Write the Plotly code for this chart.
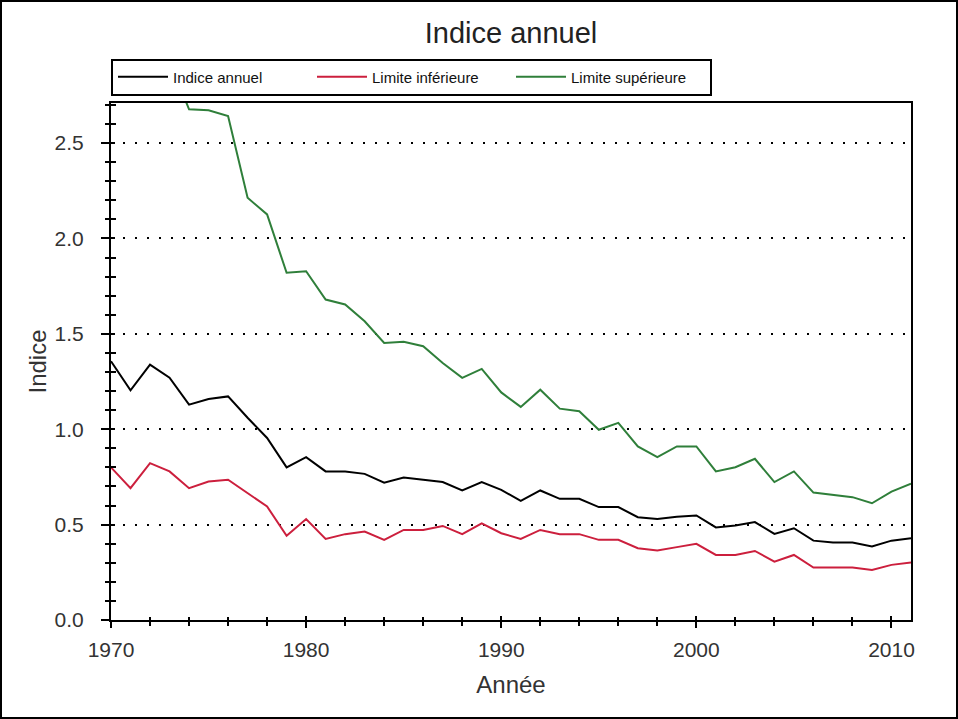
import plotly.graph_objects as go

years = list(range(1970, 2012))

indice_annuel = [1.356, 1.204, 1.339, 1.27, 1.129, 1.158, 1.172, 1.06, 0.954, 0.80,
                 0.854, 0.779, 0.779, 0.766, 0.72, 0.747, 0.735, 0.723, 0.679, 0.723,
                 0.682, 0.625, 0.679, 0.635, 0.635, 0.592, 0.592, 0.539, 0.529, 0.541,
                 0.548, 0.485, 0.495, 0.513, 0.451, 0.481, 0.416, 0.406, 0.406, 0.385,
                 0.416, 0.429]

limite_inferieure = [0.80, 0.691, 0.822, 0.779, 0.691, 0.726, 0.735, 0.665, 0.595, 0.441,
                     0.529, 0.425, 0.45, 0.464, 0.42, 0.472, 0.472, 0.493, 0.45, 0.507,
                     0.455, 0.425, 0.472, 0.45, 0.45, 0.42, 0.42, 0.376, 0.364, 0.382,
                     0.399, 0.341, 0.341, 0.362, 0.306, 0.341, 0.275, 0.275, 0.275, 0.262,
                     0.289, 0.301]

# 1970-1973 lie above the visible range (estimated, clipped)
limite_superieure = [3.2, 2.85, 3.15, 2.93, 2.677, 2.672, 2.642, 2.213, 2.126, 1.82,
                     1.828, 1.68, 1.654, 1.566, 1.452, 1.458, 1.435, 1.347, 1.269, 1.316,
                     1.193, 1.117, 1.207, 1.108, 1.094, 0.997, 1.033, 0.91, 0.854, 0.91,
                     0.91, 0.779, 0.801, 0.845, 0.723, 0.779, 0.668, 0.656, 0.644, 0.612,
                     0.673, 0.714]

series_names = ["Indice annuel", "Limite inférieure", "Limite supérieure"]
series_colors = ["#000000", "#cc1f3d", "#2f7f3a"]

x_range = [1970, 2011]
y_range = [0, 2.71]

fig = go.Figure()
for name, vals, col in zip(series_names,
                           [indice_annuel, limite_inferieure, limite_superieure],
                           series_colors):
    fig.add_trace(go.Scatter(x=years, y=vals, name=name, mode="lines",
                             line=dict(color=col, width=2)))

font_family = "Liberation Sans, Arial, sans-serif"
PW, PH = 800, 517  # plot area size in px

fig.update_layout(
    width=958, height=719,
    margin=dict(l=111, r=47, t=103, b=99),
    paper_bgcolor="white", plot_bgcolor="white",
    font=dict(family=font_family, color="#222"),
    title=dict(text="Indice annuel", x=0.5, xref="paper", xanchor="center",
               y=1 - 33 / 719, yanchor="middle",
               font=dict(size=29, color="#222", family=font_family)),
    showlegend=True,
    legend=dict(orientation="h", x=0, xanchor="left",
                y=1 + (103 - 77) / PH, yanchor="middle",
                bordercolor="black", borderwidth=2, bgcolor="white",
                font=dict(size=15, color="#111"), entrywidth=134,
                itemwidth=50, tracegroupgap=0),
    xaxis=dict(range=x_range, dtick=10, tick0=1970, showgrid=False, zeroline=False,
               showline=True, linecolor="black", linewidth=2, mirror=True,
               ticks="outside", ticklen=6, tickwidth=2, tickcolor="black",
               ticklabelstandoff=4,
               minor=dict(dtick=2, ticks="outside", ticklen=4, tickwidth=1.5,
                          tickcolor="black", showgrid=False),
               tickfont=dict(size=21, color="#333"),
               title=dict(text="Année", font=dict(size=24, color="#333"), standoff=16)),
    yaxis=dict(range=y_range, dtick=0.5, tick0=0, tickformat=".1f",
               showgrid=True, gridcolor="black", gridwidth=2, griddash="2px,10px",
               zeroline=False,
               showline=True, linecolor="black", linewidth=2, mirror=True,
               ticks="outside", ticklen=8, tickwidth=2, tickcolor="black",
               ticklabelstandoff=13,
               minor=dict(dtick=0.1, ticks="outside", ticklen=4, tickwidth=1.5,
                          tickcolor="black", showgrid=False),
               tickfont=dict(size=21, color="#333"),
               title=dict(text="Indice", font=dict(size=24, color="#333"), standoff=1)),
    xaxis2=dict(range=x_range, overlaying="x", anchor="y", side="bottom",
                dtick=10, tick0=1970, showgrid=False, zeroline=False, showline=False,
                ticks="inside", ticklen=4, tickwidth=2, tickcolor="black",
                showticklabels=False,
                minor=dict(dtick=2, ticks="inside", ticklen=3, tickwidth=1.5,
                           tickcolor="black", showgrid=False)),
    yaxis2=dict(range=y_range, overlaying="y", anchor="x", side="left",
                dtick=0.5, tick0=0, showgrid=False, zeroline=False, showline=False,
                ticks="inside", ticklen=4, tickwidth=2, tickcolor="black",
                showticklabels=False,
                minor=dict(dtick=0.1, ticks="inside", ticklen=5, tickwidth=1.5,
                           tickcolor="black", showgrid=False)),
    shapes=[dict(type="rect", xref="paper", yref="paper",
                 x0=(1 - 111) / PW, x1=(957 - 111) / PW,
                 y0=(620 - 718) / PH, y1=(620 - 1) / PH,
                 line=dict(color="black", width=2), fillcolor="rgba(0,0,0,0)")],
)

# invisible trace to activate the overlay axes
fig.add_trace(go.Scatter(x=[None], y=[None], xaxis="x2", yaxis="y2",
                         showlegend=False, hoverinfo="skip"))

fig.write_html("out.html", config={"displayModeBar": False},
               post_script="document.body.style.margin='0';document.body.style.overflow='hidden';")
